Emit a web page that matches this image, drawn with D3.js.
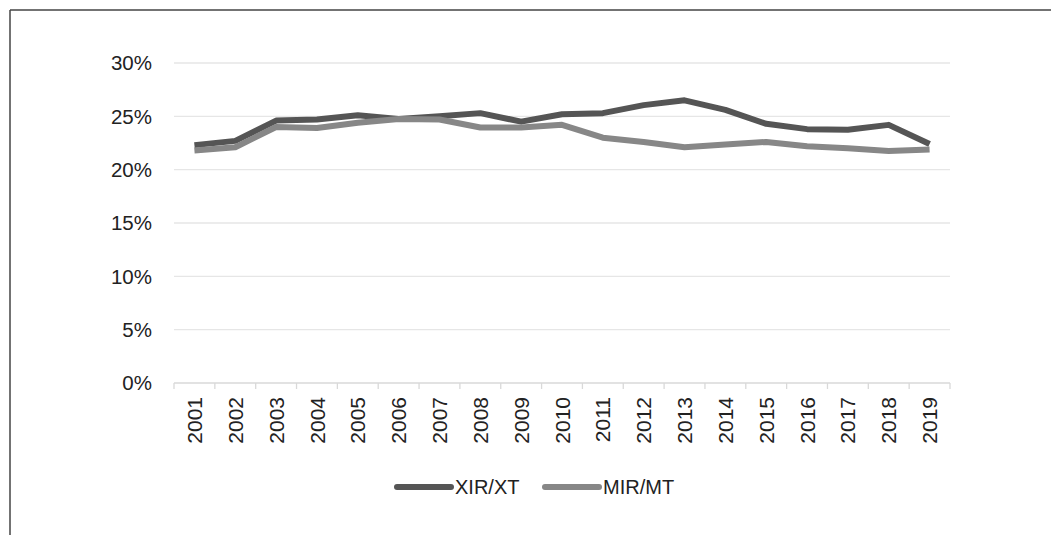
<!DOCTYPE html>
<html>
<head>
<meta charset="utf-8">
<script src="https://cdn.jsdelivr.net/npm/d3@7"></script>
<style>
  body { margin: 0; background: #fff; }
  svg text { font-family: "Liberation Sans", Arial, sans-serif; fill: #222; }
</style>
</head>
<body>
<svg id="chart"></svg>
<script>
// chart data
var years = ["2001","2002","2003","2004","2005","2006","2007","2008","2009","2010",
             "2011","2012","2013","2014","2015","2016","2017","2018","2019"];
var xirXt = [22.3, 22.7, 24.6, 24.7, 25.1, 24.75, 25.0, 25.3, 24.5, 25.2,
             25.3, 26.05, 26.5, 25.6, 24.3, 23.8, 23.75, 24.2, 22.4];
var mirMt = [21.8, 22.1, 24.0, 23.9, 24.4, 24.75, 24.7, 23.95, 23.95, 24.2,
             23.0, 22.6, 22.1, 22.35, 22.6, 22.2, 22.0, 21.75, 21.9];
var yTicks = [0, 5, 10, 15, 20, 25, 30];
var seriesNames = ["XIR/XT", "MIR/MT"];
var seriesColors = ["#555555", "#878787"];

var w = 1051, h = 535;
var svg = d3.select("#chart").attr("width", w).attr("height", h);

// frame (top and left edge only are visible)
svg.append("line").attr("x1", 10).attr("x2", w).attr("y1", 10).attr("y2", 10)
    .attr("stroke", "#444").attr("stroke-width", 1.5);
svg.append("line").attr("x1", 10).attr("x2", 10).attr("y1", 10).attr("y2", h)
    .attr("stroke", "#444").attr("stroke-width", 1.5);

var plotLeft = 174, plotRight = 950, plotTop = 63, plotBottom = 383;

var x = d3.scaleBand().domain(years).range([plotLeft, plotRight]);
var y = d3.scaleLinear().domain([0, 30]).range([plotBottom, plotTop]);

// gridlines
svg.append("g").selectAll("line")
    .data(yTicks.filter(function(d) { return d > 0; }))
    .enter().append("line")
    .attr("x1", plotLeft).attr("x2", plotRight)
    .attr("y1", function(d) { return y(d); })
    .attr("y2", function(d) { return y(d); })
    .attr("stroke", "#e6e6e6").attr("stroke-width", 1.3);

// y labels
svg.append("g").selectAll("text")
    .data(yTicks)
    .enter().append("text")
    .attr("x", 152)
    .attr("y", function(d) { return y(d); })
    .attr("dy", "0.36em")
    .attr("text-anchor", "end")
    .style("font-size", "20.5px")
    .text(function(d) { return d + "%"; });

// x axis line and ticks at category boundaries
svg.append("line").attr("x1", plotLeft).attr("x2", plotRight)
    .attr("y1", plotBottom).attr("y2", plotBottom)
    .attr("stroke", "#d9d9d9").attr("stroke-width", 1.3);
var bounds = years.map(function(d) { return x(d); }).concat([plotRight]);
svg.append("g").selectAll("line")
    .data(bounds)
    .enter().append("line")
    .attr("x1", function(d) { return d; }).attr("x2", function(d) { return d; })
    .attr("y1", plotBottom).attr("y2", plotBottom + 6)
    .attr("stroke", "#d9d9d9").attr("stroke-width", 1.3);

// year labels, rotated
svg.append("g").selectAll("text")
    .data(years)
    .enter().append("text")
    .attr("transform", function(d) {
        return "translate(" + (x(d) + x.bandwidth() / 2) + "," + 397 + ") rotate(-90)";
    })
    .attr("dy", "0.36em")
    .attr("text-anchor", "end")
    .style("font-size", "21px")
    .text(function(d) { return d; });

// series lines
var line = d3.line()
    .x(function(d, i) { return x(years[i]) + x.bandwidth() / 2; })
    .y(function(d) { return y(d); });

[xirXt, mirMt].forEach(function(vals, i) {
    svg.append("path")
        .datum(vals)
        .attr("d", line)
        .attr("fill", "none")
        .attr("stroke", seriesColors[i])
        .attr("stroke-width", 6)
        .attr("stroke-linejoin", "round");
});

// legend
var legend = svg.append("g");
var legendX = [397, 545];
seriesNames.forEach(function(name, i) {
    legend.append("line")
        .attr("x1", legendX[i]).attr("x2", legendX[i] + 54)
        .attr("y1", 487).attr("y2", 487)
        .attr("stroke", seriesColors[i]).attr("stroke-width", 6)
        .attr("stroke-linecap", "round");
    legend.append("text")
        .attr("x", legendX[i] + 58).attr("y", 487)
        .attr("dy", "0.36em")
        .style("font-size", "20px")
        .text(name);
});
</script>
</body>
</html>
